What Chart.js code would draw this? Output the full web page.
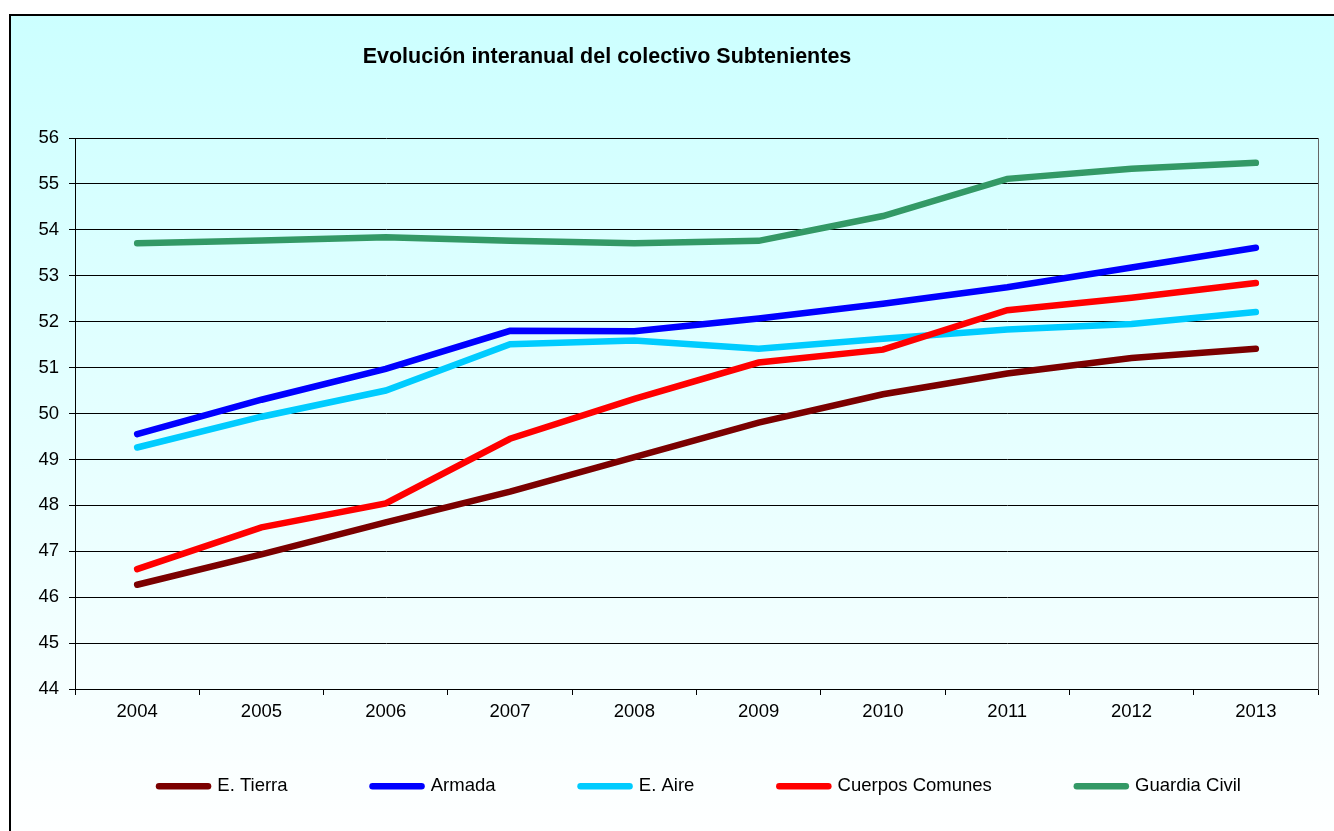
<!DOCTYPE html>
<html>
<head>
<meta charset="utf-8">
<script src="https://cdn.jsdelivr.net/npm/chart.js@4"></script>
<style>
  html, body { margin: 0; padding: 0; background: #fff; overflow: hidden; }
  #box {
    position: absolute; left: 9px; top: 14px;
    width: 1378px; height: 840px;
    border: 2px solid #000;
    background: linear-gradient(#ccffff 0px, #ffffff 830px);
  }
  canvas { display: block; }
</style>
</head>
<body>
<div id="box"><canvas id="lineChart" width="1378" height="830"></canvas></div>
<script>
// datos del grafico
var years = ["2004", "2005", "2006", "2007", "2008", "2009", "2010", "2011", "2012", "2013"];
var eTierra = [46.27, 46.93, 47.63, 48.30, 49.05, 49.80, 50.42, 50.87, 51.21, 51.41];
var armada = [49.55, 50.30, 50.97, 51.80, 51.79, 52.07, 52.39, 52.75, 53.18, 53.61];
var eAire = [49.26, 49.93, 50.50, 51.51, 51.59, 51.41, 51.63, 51.83, 51.95, 52.21];
var cuerposComunes = [46.61, 47.52, 48.04, 49.45, 50.32, 51.11, 51.39, 52.25, 52.52, 52.84];
var guardiaCivil = [53.71, 53.77, 53.84, 53.76, 53.71, 53.76, 54.30, 55.11, 55.33, 55.46];
var yTicks = [44, 45, 46, 47, 48, 49, 50, 51, 52, 53, 54, 55, 56];

var chartTitle = "Evolución interanual del colectivo Subtenientes";
var fontFamily = "'Liberation Sans', Arial, sans-serif";

// titulo colocado como en el original (no centrado)
const titlePlugin = {
  id: "fixedTitle",
  afterDraw(chart) {
    const ctx = chart.ctx;
    ctx.save();
    ctx.font = "bold 21.5px " + fontFamily;
    ctx.fillStyle = "#000";
    ctx.textAlign = "center";
    ctx.textBaseline = "middle";
    ctx.fillText(chartTitle, 596, 41);
    ctx.restore();
  }
};

// la leyenda va mas arriba que lo que deja el padding de 85
const legendShift = {
  id: "legendShift",
  afterLayout(chart) {
    chart.legend.top -= 37;
    chart.legend.bottom -= 37;
  }
};

function serie(label, color, data, order) {
  return {
    label: label,
    data: data,
    borderColor: color,
    backgroundColor: color,
    borderWidth: 6.5,
    borderCapStyle: "round",
    pointRadius: 0,
    pointHoverRadius: 0,
    tension: 0,
    order: order,
    yAxisID: "y"
  };
}

new Chart("lineChart", {
  type: "line",
  data: {
    labels: years,
    datasets: [
      serie("E. Tierra", "#7b0000", eTierra, 5),
      serie("Armada", "#0000ff", armada, 4),
      serie("E. Aire", "#00ccff", eAire, 3),
      serie("Cuerpos Comunes", "#ff0000", cuerposComunes, 2),
      serie("Guardia Civil", "#339966", guardiaCivil, 1)
    ]
  },
  options: {
    responsive: false,
    animation: false,
    layout: { padding: { top: 122, left: 0, right: 0, bottom: 3.5 } },
    plugins: {
      title: { display: false },
      tooltip: { enabled: false },
      legend: {
        position: "bottom",
        labels: {
          usePointStyle: true,
          pointStyle: "line",
          pointStyleWidth: 49,
          padding: 85,
          color: "#000",
          font: { family: fontFamily, size: 18.5 },
          sort: (a, b) => a.datasetIndex - b.datasetIndex,
          generateLabels: (chart) =>
            Chart.defaults.plugins.legend.labels.generateLabels(chart)
              .map(l => Object.assign(l, { lineCap: "round", lineWidth: 6.5 }))
        }
      }
    },
    scales: {
      x: {
        offset: true,
        grid: { display: true, offset: true, drawOnChartArea: false, color: "#000", tickLength: 6 },
        border: { color: "#000" },
        ticks: { color: "#000", font: { family: fontFamily, size: 18.5 }, padding: 6, maxRotation: 0 },
        afterFit: (s) => { s.height = 40; }
      },
      y: {
        min: 44,
        max: 56,
        afterBuildTicks: (s) => { s.ticks = yTicks.map(v => ({ value: v })); },
        grid: { color: "#000", tickLength: 6 },
        border: { color: "#000" },
        ticks: { color: "#000", font: { family: fontFamily, size: 18.5 }, padding: 10 },
        afterFit: (s) => { s.width = 64; }
      },
      y2: {
        position: "right",
        min: 44,
        max: 56,
        grid: { display: false },
        ticks: { display: false },
        border: { color: "#666" },
        afterFit: (s) => { s.width = 71; }
      }
    }
  },
  plugins: [titlePlugin, legendShift]
});
</script>
</body>
</html>
